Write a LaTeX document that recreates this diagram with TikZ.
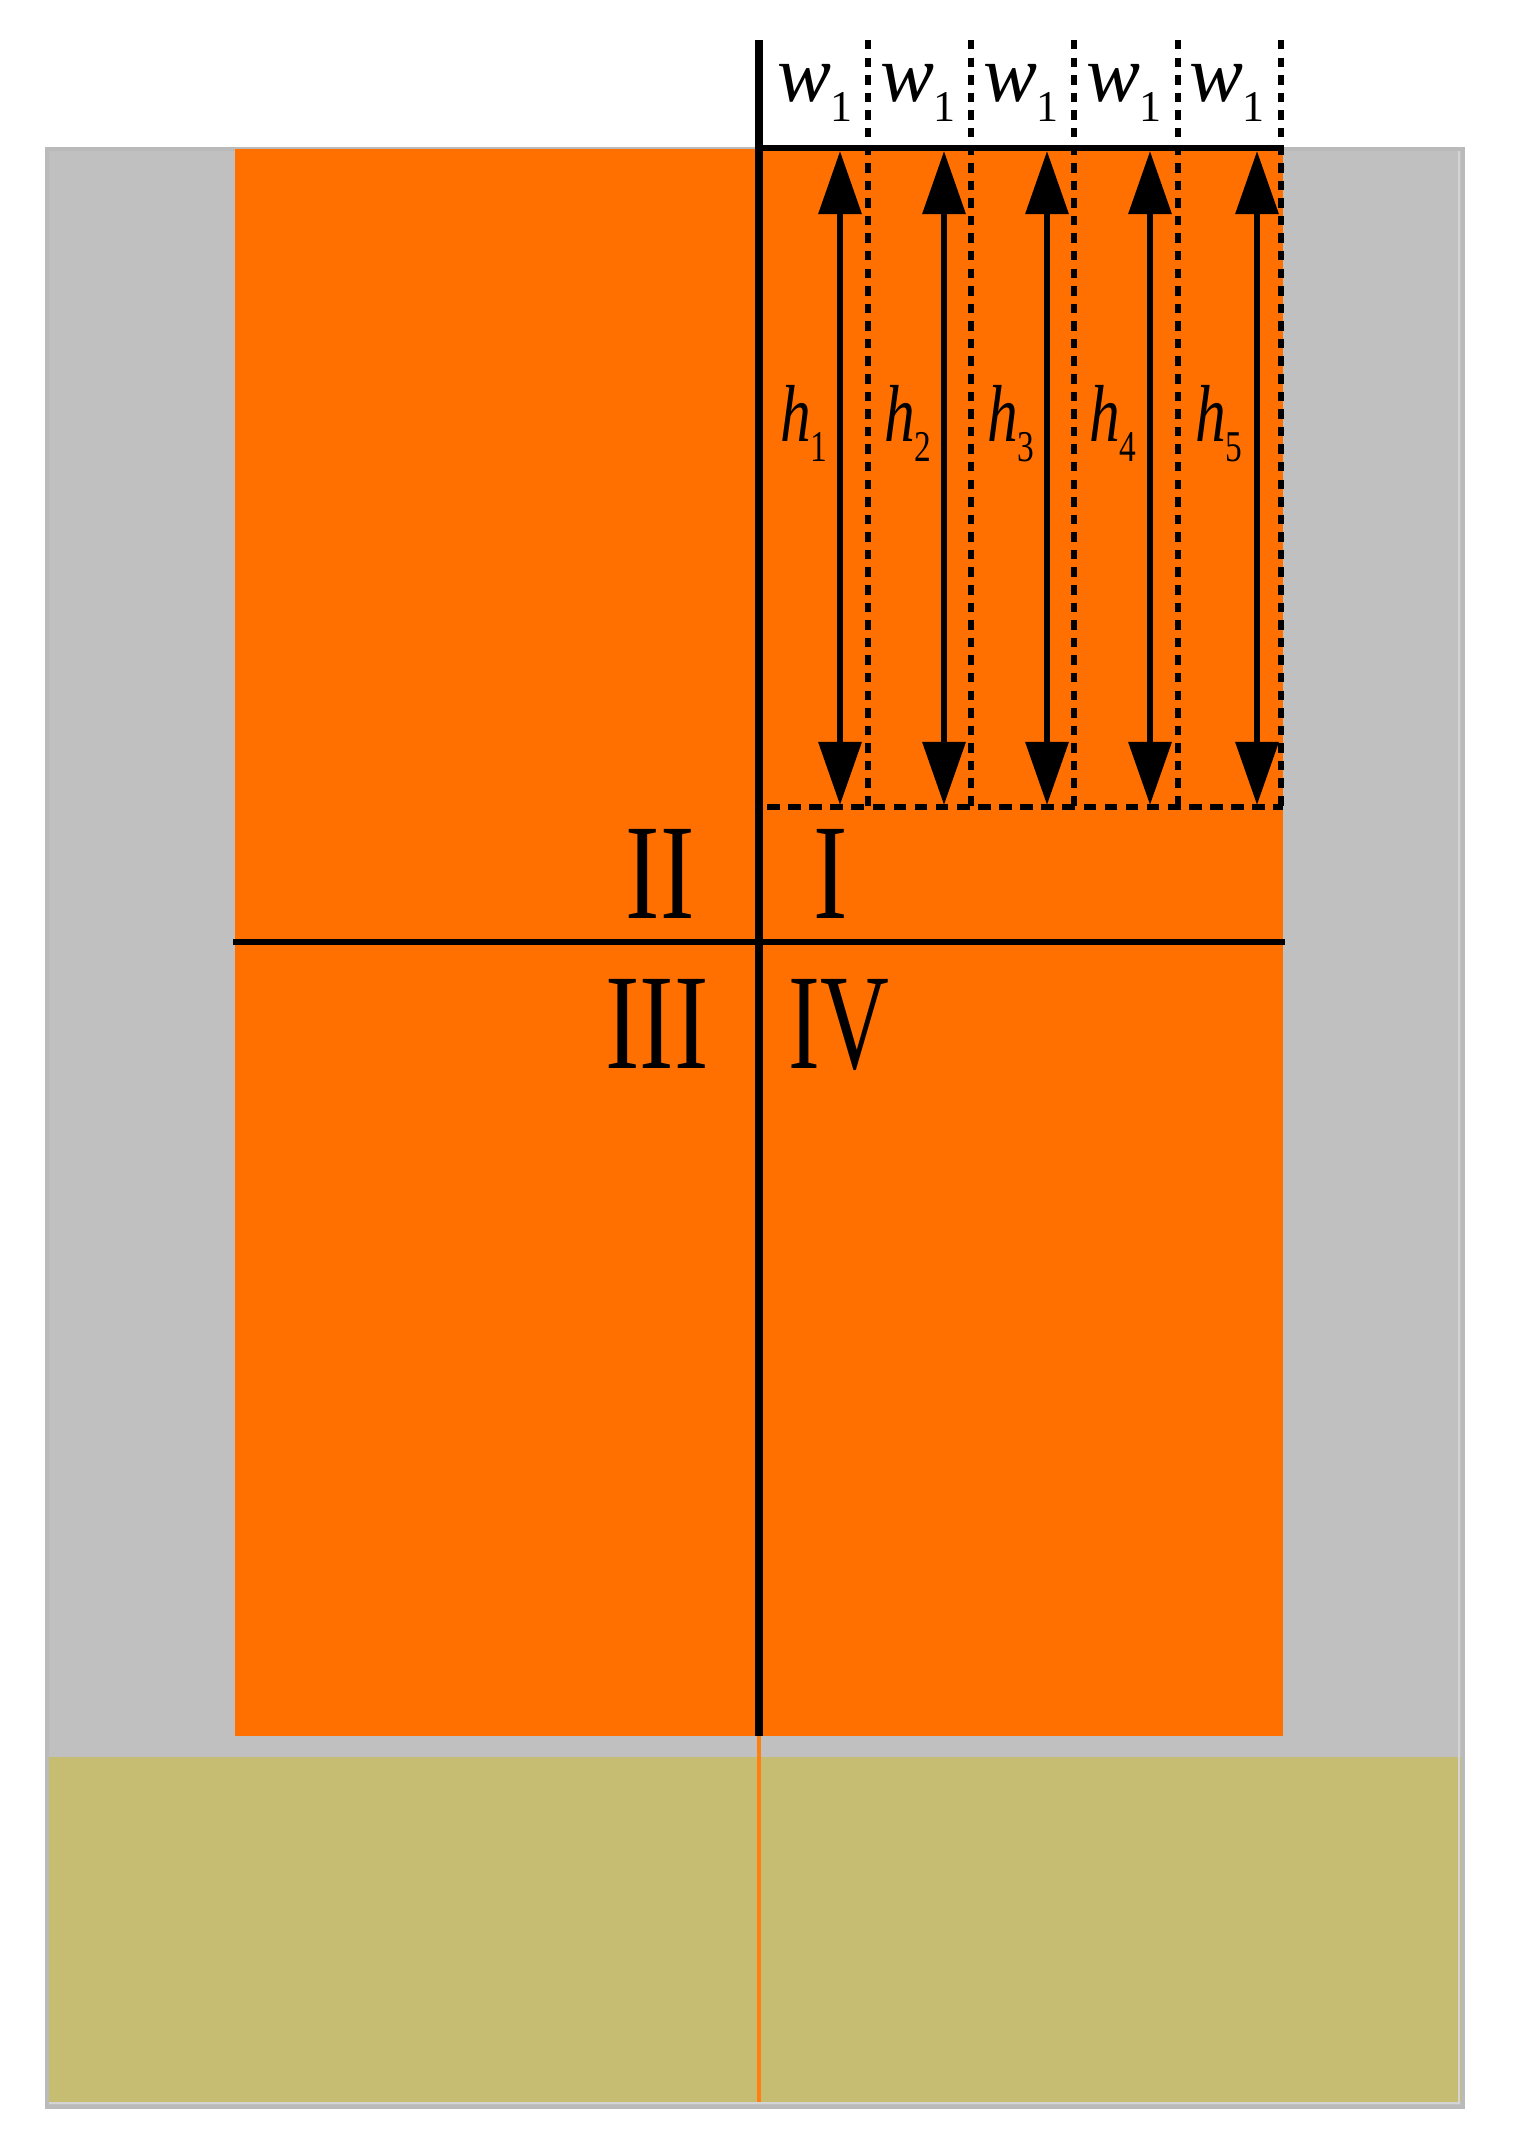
\documentclass[tikz,border=0pt]{standalone}
\usepackage{fontspec}
\setmainfont{Liberation Serif}
\newfontfamily\symit{Liberation Serif Italic}
\usetikzlibrary{arrows.meta}
\definecolor{bggray}{RGB}{192,192,192}
\definecolor{grayedge}{RGB}{186,186,186}
\definecolor{grayhi}{RGB}{212,212,212}
\definecolor{core}{RGB}{255,112,0}
\definecolor{soil}{RGB}{198,189,114}
\definecolor{thinorange}{RGB}{255,128,16}
\tikzset{
  solidline/.style={black, line width=1.8pt},
  dotline/.style={black, line width=1.8pt, dash pattern=on 2.7pt off 2.3pt},
  dashline/.style={black, line width=1.6pt, dash pattern=on 3.6pt off 2.4pt},
  harrow/.style={black, line width=1.8pt,
    {Triangle[length=0.63cm,width=0.42cm]}-{Triangle[length=0.63cm,width=0.42cm]}},
  symlab/.style={font=\fontsize{23}{25}\selectfont, inner sep=0pt, anchor=base},
  roman/.style={font=\fontsize{38.7}{40}\selectfont, inner sep=0pt, anchor=base},
}
\newcommand{\symsub}[2]{{\symit #1}\kern-0.5pt\raisebox{-5.5pt}{\fontsize{12.5}{13}\selectfont #2}}
\newcommand{\narrow}[1]{\scalebox{0.76}[1]{#1}}
\begin{document}
\begin{tikzpicture}[x=0.01cm, y=-0.01cm]
  \useasboundingbox (0,0) rectangle (1514,2155);
  % background layers
  \fill[bggray] (47,149) rectangle (1463,2107);
  \fill[soil] (47,1757) rectangle (1461,2102);
  \draw[grayhi, line width=0.8pt] (1459,149) -- (1459,2103) -- (47,2103);
  \draw[grayedge, line width=1pt] (47,149) rectangle (1463,2107);
  \fill[core] (235,149) rectangle (1283,1736);
  % named coordinates
  \coordinate (ctop) at (759,40);
  \coordinate (cbot) at (759,1736);
  \coordinate (cend) at (759,2102);
  \coordinate (hl) at (233,942);
  \coordinate (hr) at (1285,942);
  \coordinate (bl) at (759,148);
  \coordinate (br) at (1284,148);
  \coordinate (dl) at (767,807);
  \coordinate (dr) at (1283,807);
  % dotted verticals
  \foreach \i/\x in {1/868,2/971,3/1074,4/1178,5/1281}{
    \coordinate (vt\i) at (\x,40);
    \coordinate (vb\i) at (\x,807);
    \draw[dotline] (vt\i) -- (vb\i);
  }
  \draw[dashline] (dl) -- (dr);
  % main lines
  \draw[solidline, line width=2pt] (ctop) -- (cbot);
  \draw[thinorange, line width=1.1pt] (cbot) -- (cend);
  \draw[solidline, line width=1.5pt] (bl) -- (br);
  \draw[solidline] (hl) -- (hr);
  % height arrows
  \foreach \i/\x in {1/840,2/944,3/1047,4/1150,5/1257}{
    \coordinate (at\i) at (\x,151);
    \coordinate (ab\i) at (\x,805);
    \draw[harrow] (at\i) -- (ab\i);
  }
  % width labels
  \foreach \i/\x in {1/815,2/918,3/1021,4/1124,5/1227}{
    \node[symlab] (w\i) at (\x,102) {\symsub{w}{1}};
  }
  % height labels
  \foreach \i/\x in {1/804,2/908,3/1011,4/1113,5/1219}{
    \node[symlab] (h\i) at (\x,442) {\narrow{\symsub{h}{\i}}};
  }
  % region labels
  \node[roman] (rII) at (660,918) {\narrow{II}};
  \node[roman] (rI) at (831,918) {\narrow{I}};
  \node[roman] (rIII) at (657,1068) {\narrow{III}};
  \node[roman] (rIV) at (839,1068) {\scalebox{0.7}[1]{IV}};
\end{tikzpicture}
\end{document}
